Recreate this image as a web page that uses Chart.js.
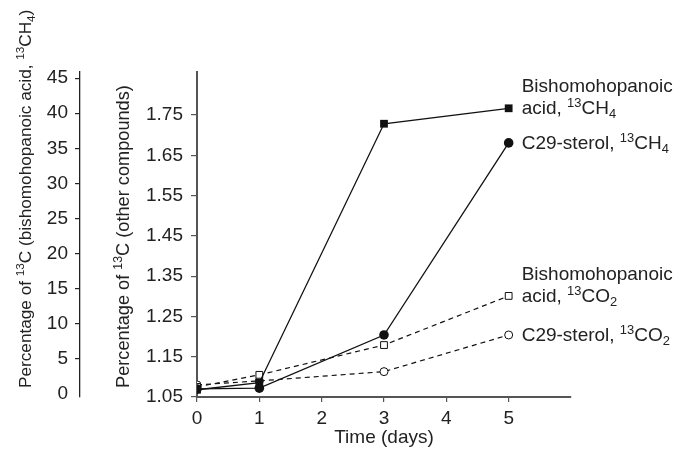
<!DOCTYPE html>
<html><head><meta charset="utf-8">
<script src="https://cdn.jsdelivr.net/npm/chart.js@4.4.0/dist/chart.umd.min.js"></script>
<style>html,body{margin:0;padding:0;background:#fff}</style>
</head><body>
<canvas id="c" width="675" height="451"></canvas>
<script>
// ---- data ----
const days = [0, 1, 3, 5];
const bishoCH4 = [0.6, 1.6, 38.5, 40.7];          // far-left axis (%)
const sterolCH4 = [1.070, 1.072, 1.204, 1.681];   // inner axis (%)
const bishoCO2 = [1.075, 1.105, 1.179, 1.301];
const sterolCO2 = [1.080, 1.090, 1.113, 1.204];
const xTicks = [0, 1, 2, 3, 4, 5];
const innerTicks = [1.05, 1.15, 1.25, 1.35, 1.45, 1.55, 1.65, 1.75];
const outerTicks = [0, 5, 10, 15, 20, 25, 30, 35, 40, 45];
const seriesLabels = [
  ['Bishomohopanoic', 'acid, ^{13}CH_{4}'],
  ['C29-sterol, ^{13}CH_{4}'],
  ['Bishomohopanoic', 'acid, ^{13}CO_{2}'],
  ['C29-sterol, ^{13}CO_{2}']
];
const outerTitle = 'Percentage of ^{13}C (bishomohopanoic acid, ^{13}CH_{4})';
const innerTitle = 'Percentage of ^{13}C (other compounds)';
const xTitle = 'Time (days)';

const FAM = '"Liberation Sans", Arial, Helvetica, sans-serif';
Chart.defaults.font.family = FAM;
const TXT = '#222';

function parseRich(s) {
  const parts = []; const re = /\^\{([^}]*)\}|_\{([^}]*)\}|([^^_]+)/g; let m;
  while ((m = re.exec(s))) {
    if (m[1] !== undefined) parts.push({ t: m[1], k: 'sup' });
    else if (m[2] !== undefined) parts.push({ t: m[2], k: 'sub' });
    else parts.push({ t: m[3], k: 'n' });
  }
  return parts;
}
function drawRich(ctx, s, x, y, size) {
  let cx = x;
  for (const p of parseRich(s)) {
    let fs = size, dy = 0;
    if (p.k === 'sup') { fs = size * 0.68; dy = -size * 0.38; }
    else if (p.k === 'sub') { fs = size * 0.68; dy = size * 0.22; }
    ctx.font = fs + 'px ' + FAM;
    ctx.fillText(p.t, cx, y + dy);
    cx += ctx.measureText(p.t).width;
  }
}

const pts = arr => days.map((d, i) => ({ x: d, y: arr[i] }));

const annot = {
  id: 'annot',
  afterDraw(chart) {
    const ctx = chart.ctx; ctx.save();
    ctx.fillStyle = TXT; ctx.textBaseline = 'alphabetic'; ctx.textAlign = 'left';
    chart.data.datasets.forEach((d, i) => {
      const meta = chart.getDatasetMeta(i);
      const pt = meta.data[meta.data.length - 1];
      const lines = seriesLabels[i];
      lines.forEach((ln, j) => {
        const base = pt.y + 6 - (lines.length - 1 - j) * 22;
        drawRich(ctx, ln, pt.x + 13, base, 19);
      });
    });
    const ca = chart.chartArea, s2 = chart.scales.y2, s1 = chart.scales.y;
    [[outerTitle, s2.left + 31, 17.2], [innerTitle, s1.left + 49, 18.2]].forEach(([t, x, fs]) => {
      ctx.save(); ctx.translate(x, ca.bottom - 9); ctx.rotate(-Math.PI / 2);
      drawRich(ctx, t, 0, 0, fs); ctx.restore();
    });
    ctx.restore();
  }
};

new Chart(document.getElementById('c'), {
  type: 'line',
  data: {
    datasets: [
      { data: pts(bishoCH4), yAxisID: 'y2', borderColor: '#111', borderWidth: 1.3,
        pointStyle: 'rect', pointRadius: 5.5, pointBackgroundColor: '#111', pointBorderColor: '#111', pointBorderWidth: 0 },
      { data: pts(sterolCH4), yAxisID: 'y', borderColor: '#111', borderWidth: 1.3,
        pointStyle: 'circle', pointRadius: 4.8, pointBackgroundColor: '#111', pointBorderColor: '#111', pointBorderWidth: 0 },
      { data: pts(bishoCO2), yAxisID: 'y', borderColor: '#111', borderWidth: 1.2, borderDash: [5, 4],
        pointStyle: 'rect', pointRadius: 4.8, pointBackgroundColor: '#fff', pointBorderColor: '#111', pointBorderWidth: 1 },
      { data: pts(sterolCO2), yAxisID: 'y', borderColor: '#111', borderWidth: 1.2, borderDash: [5, 4],
        pointStyle: 'circle', pointRadius: 4, pointBackgroundColor: '#fff', pointBorderColor: '#111', pointBorderWidth: 1 }
    ]
  },
  options: {
    responsive: false, animation: false,
    layout: { padding: { top: 72, right: 104, left: 0, bottom: 0 } },
    plugins: { legend: { display: false }, tooltip: { enabled: false } },
    scales: {
      x: {
        type: 'linear', position: 'bottom', min: 0, max: 6,
        afterBuildTicks: s => { s.ticks = xTicks.map(v => ({ value: v })); },
        grid: { drawOnChartArea: false, drawTicks: true, tickLength: 5, color: '#555', lineWidth: 1.2 },
        border: { color: '#555', width: 2 },
        ticks: { font: { size: 19 }, color: TXT, padding: 5, maxRotation: 0, autoSkip: false },
        title: { display: true, text: xTitle, font: { size: 19 }, color: TXT, padding: { top: 0, bottom: 2 } },
        afterFit: s => { s.height = 54; }
      },
      y: {
        type: 'linear', position: 'left', weight: 0, min: 1.05, max: 1.857,
        afterBuildTicks: s => { s.ticks = innerTicks.map(v => ({ value: v })); },
        grid: { drawOnChartArea: false, drawTicks: true, tickLength: 6, color: '#555', lineWidth: 1.2 },
        border: { color: '#555', width: 2 },
        ticks: { font: { size: 19 }, color: TXT, padding: 8, callback: v => v.toFixed(2) },
        afterFit: s => { s.width = 117; }
      },
      y2: {
        type: 'linear', position: 'left', weight: 1, min: -0.43, max: 45.87,
        afterBuildTicks: s => { s.ticks = outerTicks.map(v => ({ value: v })); },
        grid: { drawOnChartArea: false, drawTicks: true, tickLength: 5,
          color: c => (c.tick && c.tick.value === 0) ? 'rgba(0,0,0,0)' : '#222', lineWidth: 1.2 },
        border: { color: '#222', width: 1.3 },
        ticks: { font: { size: 19 }, color: TXT, padding: 7, callback: v => String(v) },
        afterFit: s => { s.width = 80; }
      }
    }
  },
  plugins: [annot]
});
</script>
</body></html>
